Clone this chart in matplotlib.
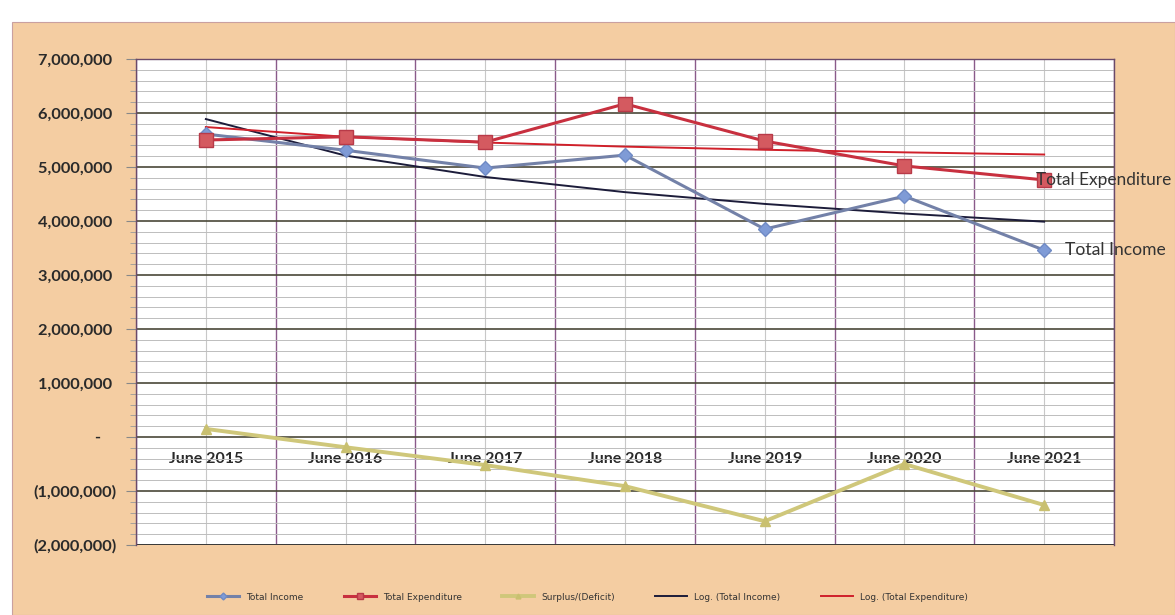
import numpy as np
import matplotlib
matplotlib.use("Agg")
import matplotlib.pyplot as plt
from matplotlib.ticker import MultipleLocator, FixedLocator, FuncFormatter
from matplotlib.patches import Rectangle

categories = ["June 2015", "June 2016", "June 2017", "June 2018",
              "June 2019", "June 2020", "June 2021"]
total_income = [5610000, 5310000, 4980000, 5220000, 3850000, 4460000, 3460000]
total_expenditure = [5500000, 5560000, 5460000, 6170000, 5480000, 5020000, 4760000]
surplus_deficit = [150000, -190000, -520000, -910000, -1560000, -500000, -1260000]

W, H = 1175, 615
fig = plt.figure(figsize=(W / 100, H / 100), dpi=100)
fig.patch.set_facecolor("white")
fig.patches.append(Rectangle((12 / W, 0), 1 - 12 / W, 1 - 22 / H,
                             transform=fig.transFigure, facecolor="#f4cda2",
                             edgecolor="#c9a0a0", lw=0.8, zorder=-10))

ax = fig.add_axes([136 / W, 1 - 545 / H, (1114 - 136) / W, (545 - 59) / H])
ax.set_facecolor("white")

x = np.arange(len(categories))

# log trendlines (Excel-style: y = a*ln(x) + b, x = 1..n)
lx = np.log(x + 1)
a_i, b_i = np.polyfit(lx, total_income, 1)
a_e, b_e = np.polyfit(lx, total_expenditure, 1)

ax.plot(x, total_income, color="#7381a8", lw=2.2, marker="D", ms=7,
        mfc="#7f9bd6", mec="#6f8ac4", label="Total Income", zorder=5)
ax.plot(x, total_expenditure, color="#c8303f", lw=2.2, marker="s", ms=9.5,
        mfc="#d45a60", mec="#b83a48", label="Total Expenditure", zorder=5)
ax.plot(x, surplus_deficit, color="#cfc77a", lw=2.8, marker="^", ms=7,
        mfc="#c9c070", mec="#c9c070", label="Surplus/(Deficit)", zorder=5)
ax.plot(x, a_i * lx + b_i, color="#1c1c3a", lw=1.4,
        label="Log. (Total Income)", zorder=4)
ax.plot(x, a_e * lx + b_e, color="#d0202a", lw=1.4,
        label="Log. (Total Expenditure)", zorder=4)

ax.set_xlim(-0.5, len(categories) - 0.5)
ax.set_ylim(-2000000, 7000000)

# grid
ax.yaxis.set_major_locator(MultipleLocator(1000000))
ax.yaxis.set_minor_locator(MultipleLocator(200000))
ax.xaxis.set_major_locator(FixedLocator(x))
ax.xaxis.set_minor_locator(FixedLocator(np.arange(-0.5, len(categories), 1.0)))
ax.grid(which="minor", axis="y", color="#bdbdbd", lw=0.7, zorder=0)
ax.grid(which="major", axis="y", color="#4a4838", lw=1.2, zorder=1)
ax.grid(which="major", axis="x", color="#c8c8c8", lw=0.8, zorder=0)
ax.grid(which="minor", axis="x", color="#8a5a8a", lw=1.0, zorder=1)
ax.set_axisbelow(True)


def yfmt(v, pos):
    if abs(v) < 1:
        return "-    "
    if v < 0:
        return f"({abs(v):,.0f})"
    return f"{v:,.0f} "


ax.yaxis.set_major_formatter(FuncFormatter(yfmt))
ax.tick_params(axis="y", which="major", length=7, color="#888888", pad=7,
               labelsize=11.8, labelcolor="#2a2a2a")
ax.tick_params(axis="y", which="minor", length=4, color="#999999")
for t in ax.get_yticklabels():
    t.set_fontfamily("Lato")
    t.set_fontweight("bold")

# category labels on the zero line
ax.spines["bottom"].set_position(("data", 0))
ax.spines["bottom"].set_visible(False)
ax.set_xticks(x)
ax.set_xticklabels(categories, fontfamily="Lato", fontweight="bold",
                   fontsize=11.5, color="#2a2a2a")
ax.tick_params(axis="x", which="both", length=0, pad=11)

for s in ["left", "right", "top"]:
    ax.spines[s].set_color("#6a4a6a")
    ax.spines[s].set_linewidth(1.0)
ax.axhline(-2000000, color="#3a3a3a", lw=1.4, zorder=2)

# end labels
ax.annotate("Total Expenditure", (x[-1], total_expenditure[-1]),
            xytext=(-6, 0), textcoords="offset points", ha="left", va="center",
            fontsize=12.4, fontfamily="Lato", color="#333333",
            annotation_clip=False, zorder=6)
ax.annotate("Total Income", (x[-1], total_income[-1]),
            xytext=(15, 0), textcoords="offset points", ha="left", va="center",
            fontsize=12.6, fontfamily="Lato", color="#333333",
            annotation_clip=False, zorder=6)

leg = fig.legend(loc="center", bbox_to_anchor=(0.50, 1 - 597 / H), ncol=5,
                 frameon=False, fontsize=6.5, handlelength=3.5,
                 columnspacing=4.5, markerscale=0.5)
for t in leg.get_texts():
    t.set_color("#333333")

fig.savefig("out.png", dpi=100, facecolor=fig.get_facecolor())
